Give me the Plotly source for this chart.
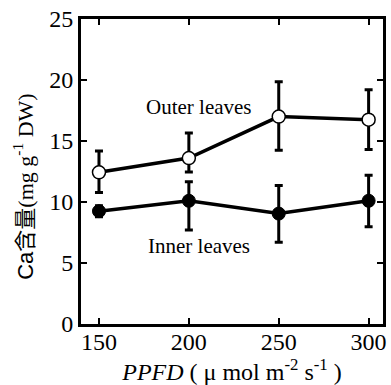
import plotly.graph_objects as go

ppfd = [150, 200, 250, 300]
outer_ca = [12.43, 13.6, 17.0, 16.75]
outer_err_plus = [1.75, 2.05, 2.85, 2.45]
outer_err_minus = [1.65, 1.15, 2.75, 2.45]
inner_ca = [9.25, 10.1, 9.05, 10.1]
inner_err_plus = [0.45, 1.55, 2.3, 2.1]
inner_err_minus = [0.45, 2.4, 2.35, 2.12]

x_ticks = [150, 200, 250, 300]
y_ticks = [0, 5, 10, 15, 20, 25]

serif = "Liberation Serif"

fig = go.Figure()
fig.add_trace(go.Scatter(
    x=ppfd, y=inner_ca, mode="lines+markers",
    line=dict(color="black", width=3.5),
    marker=dict(size=13, color="black", line=dict(color="black", width=1)),
    error_y=dict(type="data", symmetric=False, array=inner_err_plus,
                 arrayminus=inner_err_minus, color="black", thickness=3, width=4),
    showlegend=False,
))
fig.add_trace(go.Scatter(
    x=ppfd, y=outer_ca, mode="lines+markers",
    line=dict(color="black", width=3.5),
    marker=dict(size=13, color="white", line=dict(color="black", width=1.5)),
    error_y=dict(type="data", symmetric=False, array=outer_err_plus,
                 arrayminus=outer_err_minus, color="black", thickness=3, width=4),
    showlegend=False,
))

fig.add_annotation(x=205.5, y=17.8, xref="x", yref="y", text="Outer leaves",
                   showarrow=False, font=dict(family=serif, size=21, color="black"))
fig.add_annotation(x=205.5, y=6.4, xref="x", yref="y", text="Inner leaves",
                   showarrow=False, font=dict(family=serif, size=21, color="black"))

# y-axis title drawn as a rotated annotation so it can sit close to the left edge
fig.add_annotation(
    x=-0.193, y=0.449, xref="paper", yref="paper", textangle=-90,
    xanchor="center", yanchor="middle", showarrow=False,
    text="<span style=\"font-family:'Liberation Sans'\">Ca</span>"
         "<span style=\"font-family:'Noto Sans CJK JP'\">含量</span>(mg g<sup>-1</sup> DW)",
    font=dict(family=serif, size=22, color="black"),
)

fig.update_layout(
    width=391, height=385,
    margin=dict(l=81, r=5, t=19, b=61),
    paper_bgcolor="white", plot_bgcolor="white",
    font=dict(family=serif, color="black"),
)
fig.update_xaxes(
    range=[140, 308], tickvals=x_ticks, ticktext=[str(v) for v in x_ticks],
    showgrid=False, zeroline=False,
    showline=True, linecolor="black", linewidth=3, mirror="ticks",
    ticks="inside", ticklen=6, tickwidth=2, tickcolor="black",
    ticklabelstandoff=-6,
    tickfont=dict(family=serif, size=24, color="black"),
    title=dict(text="<i>PPFD</i> ( μ mol m<sup>-2</sup> s<sup>-1</sup> )",
               font=dict(family=serif, size=24, color="black"), standoff=2),
)
fig.update_yaxes(
    range=[0, 25], tickvals=y_ticks, ticktext=[str(v) for v in y_ticks],
    showgrid=False, zeroline=False,
    showline=True, linecolor="black", linewidth=3, mirror="ticks",
    ticks="inside", ticklen=6, tickwidth=2, tickcolor="black",
    tickfont=dict(family=serif, size=24, color="black"),
)

fig.write_html("out.html")
